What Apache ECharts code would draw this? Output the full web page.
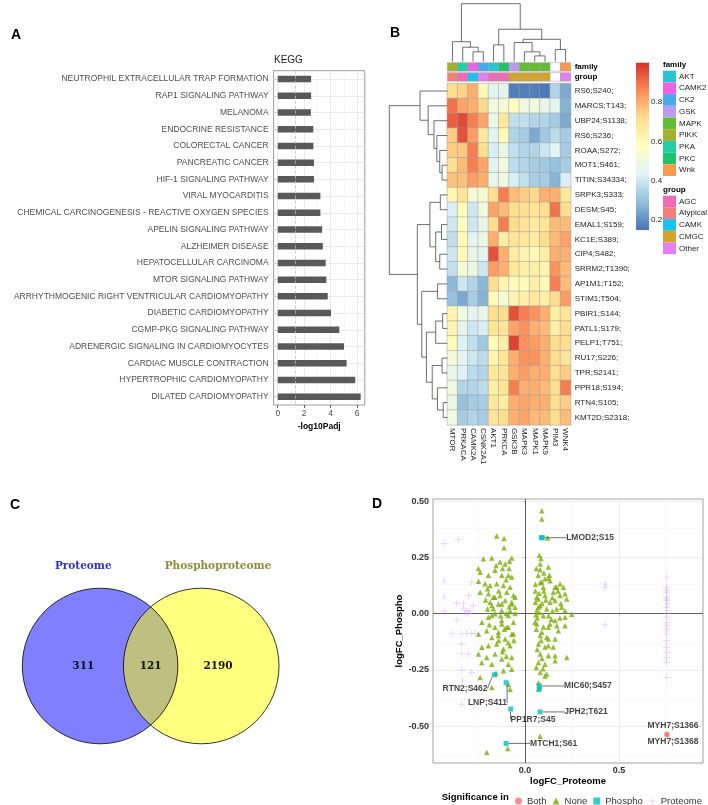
<!DOCTYPE html>
<html><head><meta charset="utf-8">
<script src="https://cdn.jsdelivr.net/npm/echarts@6/dist/echarts.min.js"></script>
<style>html,body{margin:0;padding:0;background:#fff}#c{width:708px;height:805px}</style>
</head><body><div id="c"></div>
<script>
// ================= Panel A : KEGG =================
const keggTerms = ['NEUTROPHIL EXTRACELLULAR TRAP FORMATION','RAP1 SIGNALING PATHWAY','MELANOMA','ENDOCRINE RESISTANCE','COLORECTAL CANCER','PANCREATIC CANCER','HIF-1 SIGNALING PATHWAY','VIRAL MYOCARDITIS','CHEMICAL CARCINOGENESIS - REACTIVE OXYGEN SPECIES','APELIN SIGNALING PATHWAY','ALZHEIMER DISEASE','HEPATOCELLULAR CARCINOMA','MTOR SIGNALING PATHWAY','ARRHYTHMOGENIC RIGHT VENTRICULAR CARDIOMYOPATHY','DIABETIC CARDIOMYOPATHY','CGMP-PKG SIGNALING PATHWAY','ADRENERGIC SIGNALING IN CARDIOMYOCYTES','CARDIAC MUSCLE CONTRACTION','HYPERTROPHIC CARDIOMYOPATHY','DILATED CARDIOMYOPATHY'];
const keggValues = [2.52,2.52,2.50,2.69,2.69,2.74,2.74,3.22,3.22,3.35,3.40,3.62,3.67,3.77,4.02,4.65,5.00,5.20,5.85,6.26];
const keggBreaks = [0,2,4,6];
const keggMinor = [1,3,5];
const keggCutoff = 1.3;

// ================= Panel B : kinase heatmap =================
const kinases = ['MTOR','PRKACA','CAMK2A','CSNK2A1','AKT1','PRKCA','GSK3B','MAPK3','MAPK1','MAPK9','PIM3','WNK4'];
const sites = ['RS6;S240;','MARCS;T143;','UBP24;S1138;','RS6;S236;','ROAA;S272;','MOT1;S461;','TITIN;S34334;','SRPK3;S333;','DESM;S45;','EMAL1;S159;','KC1E;S389;','CIP4;S482;','SRRM2;T1390;','AP1M1;T152;','STIM1;T504;','PBIR1;S144;','PATL1;S179;','PELP1;T751;','RU17;S226;','TPR;S2141;','PPR18;S194;','RTN4;S105;','KMT2D;S2318;'];
const activity = [
[0.72,0.74,0.80,0.60,0.45,0.45,0.17,0.17,0.17,0.16,0.35,0.25],
[0.90,0.82,0.80,0.73,0.50,0.52,0.58,0.50,0.50,0.47,0.45,0.27],
[0.93,0.96,0.88,0.82,0.48,0.68,0.38,0.38,0.35,0.35,0.33,0.25],
[0.75,0.95,0.83,0.67,0.45,0.60,0.35,0.33,0.25,0.32,0.37,0.33],
[0.75,0.76,0.88,0.72,0.42,0.48,0.38,0.35,0.35,0.40,0.45,0.33],
[0.72,0.78,0.88,0.82,0.45,0.50,0.37,0.35,0.33,0.32,0.30,0.33],
[0.77,0.77,0.83,0.80,0.47,0.50,0.42,0.38,0.33,0.33,0.27,0.42],
[0.62,0.70,0.52,0.53,0.72,0.88,0.78,0.75,0.73,0.80,0.80,0.68],
[0.42,0.60,0.40,0.50,0.82,0.78,0.72,0.72,0.70,0.72,0.90,0.72],
[0.40,0.58,0.40,0.47,0.72,0.88,0.72,0.70,0.67,0.70,0.78,0.78],
[0.38,0.60,0.45,0.48,0.80,0.65,0.70,0.68,0.66,0.72,0.78,0.82],
[0.40,0.60,0.47,0.45,0.95,0.80,0.66,0.62,0.60,0.65,0.80,0.80],
[0.38,0.52,0.48,0.40,0.83,0.80,0.68,0.65,0.65,0.62,0.85,0.78],
[0.28,0.40,0.35,0.28,0.72,0.62,0.60,0.60,0.65,0.60,0.88,0.78],
[0.30,0.25,0.33,0.27,0.60,0.52,0.62,0.65,0.68,0.65,0.72,0.83],
[0.62,0.50,0.45,0.47,0.72,0.72,0.95,0.88,0.85,0.80,0.65,0.70],
[0.62,0.45,0.40,0.42,0.70,0.70,0.82,0.85,0.80,0.78,0.65,0.72],
[0.60,0.43,0.38,0.32,0.60,0.65,0.97,0.85,0.83,0.80,0.72,0.72],
[0.52,0.45,0.40,0.37,0.63,0.70,0.80,0.85,0.85,0.80,0.72,0.70],
[0.47,0.43,0.37,0.35,0.68,0.70,0.80,0.83,0.80,0.80,0.72,0.75],
[0.50,0.35,0.35,0.37,0.65,0.70,0.88,0.80,0.80,0.78,0.72,0.88],
[0.48,0.30,0.33,0.33,0.68,0.66,0.80,0.82,0.80,0.80,0.72,0.75],
[0.50,0.33,0.35,0.33,0.70,0.72,0.80,0.82,0.78,0.78,0.72,0.78]
];
const kinaseFamily = ['PIKK','PKA','CAMK2','CK2','AKT','PKC','GSK','MAPK','MAPK','MAPK',null,'Wnk'];
const kinaseGroup = ['Atypical','AGC','CAMK','Other','AGC','AGC','CMGC','CMGC','CMGC','CMGC',null,'Other'];
const familyLevels = ['AKT','CAMK2','CK2','GSK','MAPK','PIKK','PKA','PKC','Wnk'];
const familyColors = ['#27C5CF','#EE63E4','#4AA9EC','#BA9CF0','#62BD34','#A6AE30','#22CEA6','#22C16A','#F59A4F'];
const groupLevels = ['AGC','Atypical','CAMK','CMGC','Other'];
const groupColors = ['#F06AB6','#F37F7A','#18C4EF','#D2A42B','#E27FF2'];
const heatColors = ['#4575B4','#91BFDB','#E0F3F8','#FFFFBF','#FEE090','#FC8D59','#D73027'];
const heatMin = 0.15, heatMax = 1.0;
const colorbarTicks = [0.2,0.4,0.6,0.8];
// dendrograms: [height, left, right]; leaves are indices
const colTree = [1.0,[0.345,0,[0.25,1,[0.17,2,3]]],[0.56,[0.29,4,5],[0.386,[0.33,6,[0.17,7,[0.1,8,9]]],[0.21,10,11]]]];
const rowTree = [1.0,
  [0.47,0,[0.33,1,[0.23,2,[0.18,3,[0.13,4,[0.09,5,6]]]]]],
  [0.517,
    [0.30,[0.12,7,8],[0.2,[0.1,9,10],[0.13,11,12]]],
    [0.44,[0.17,13,14],[0.36,[0.2,[0.08,15,16],17],[0.26,[0.09,18,19],[0.17,20,[0.07,21,22]]]]]
  ]
];

// ================= Panel C : Venn =================
const vennSets = ['Proteome','Phosphoproteome'];
const vennCounts = [311,121,2190];

// ================= Panel D : scatter =================
const noneSites = [
[0.089,0.457],[0.089,0.42],[0.12,0.336],
[0.076,0.259],[0.085,0.245],[0.08,0.22],[0.124,0.207],[0.08,0.195],[0.13,0.17],[0.07,0.17],
[0.106,0.155],[0.08,0.137],[0.133,0.146],[0.124,0.158],[0.089,0.14],[0.1,0.18],[0.06,0.2],[0.055,0.13],
[0.097,0.117],[0.168,0.117],[0.186,0.132],[0.204,0.117],[0.16,0.117],[0.15,0.095],[0.106,0.08],[0.213,0.088],
[0.07,0.065],[0.222,0.065],[0.186,0.08],[0.16,0.058],[0.133,0.05],[0.062,0.073],[0.08,0.035],[0.195,0.028],
[0.07,0.028],[0.115,0.02],[0.062,0.012],[0.168,0.02],[0.213,0.012],[0.055,0.05],[0.075,0.09],[0.1,0.1],
[0.055,0.1],[0.09,0.045],[0.11,0.06],[0.145,0.07],[0.175,0.1],[0.19,0.045],[0.145,0.01],
[0.058,-0.005],[0.075,0.005],[0.065,-0.02],[0.097,-0.01],[0.125,-0.01],[0.14,-0.025],[0.185,-0.02],[0.248,-0.003],
[0.213,-0.016],[0.16,-0.031],[0.053,-0.039],[0.062,-0.046],[0.098,-0.06],[0.133,-0.046],[0.169,-0.054],[0.213,-0.054],
[0.124,-0.061],[0.177,-0.076],[0.089,-0.083],[0.06,-0.07],[0.08,-0.098],[0.115,-0.106],[0.124,-0.113],[0.16,-0.113],
[0.085,-0.12],[0.071,-0.135],[0.106,-0.149],[0.15,-0.149],[0.124,-0.143],[0.065,-0.16],[0.08,-0.18],[0.124,-0.188],
[0.16,-0.188],[0.222,-0.195],[0.09,-0.2],[0.071,-0.217],[0.106,-0.225],[0.16,-0.21],[0.06,-0.24],[0.095,-0.245],
[0.08,-0.262],[0.115,-0.269],[0.106,-0.277],[0.071,-0.307],[0.071,-0.335],[0.08,-0.545],
[-0.151,0.345],[-0.112,0.333],[-0.112,0.292],[-0.222,0.244],[-0.177,0.247],[-0.133,0.229],[-0.154,0.214],
[-0.106,0.22],[-0.071,0.247],[-0.083,0.232],[-0.248,0.2],[-0.239,0.184],[-0.195,0.17],[-0.16,0.192],
[-0.124,0.17],[-0.089,0.17],[-0.071,0.162],[-0.12,0.2],[-0.085,0.2],[-0.248,0.143],[-0.213,0.132],[-0.186,0.125],
[-0.151,0.132],[-0.115,0.125],[-0.08,0.117],[-0.1,0.15],[-0.2,0.11],[-0.14,0.1],[-0.239,0.095],[-0.195,0.088],
[-0.169,0.073],[-0.133,0.08],[-0.097,0.095],[-0.062,0.08],[-0.16,0.073],[-0.053,0.073],[-0.21,0.06],[-0.186,0.05],
[-0.142,0.043],[-0.106,0.058],[-0.071,0.043],[-0.177,0.036],[-0.124,0.043],[-0.071,0.05],[-0.169,0.021],[-0.124,0.014],
[-0.08,0.014],[-0.053,0.028],[-0.2,0.02],[-0.085,0.03],[-0.177,-0.009],[-0.1,0.0],[-0.13,-0.01],[-0.16,-0.001],
[-0.195,-0.016],[-0.089,-0.009],[-0.053,0],[-0.23,-0.039],[-0.124,-0.031],[-0.19,-0.05],[-0.062,-0.039],[-0.124,-0.046],
[-0.16,-0.061],[-0.097,-0.061],[-0.089,-0.061],[-0.11,-0.07],[-0.204,-0.076],[-0.142,-0.083],[-0.248,-0.091],[-0.062,-0.091],
[-0.071,-0.091],[-0.177,-0.106],[-0.142,-0.098],[-0.106,-0.113],[-0.06,-0.12],[-0.14,-0.12],[-0.09,-0.13],[-0.23,-0.15],
[-0.195,-0.143],[-0.151,-0.135],[-0.115,-0.158],[-0.08,-0.143],[-0.12,-0.17],[-0.248,-0.18],[-0.204,-0.195],
[-0.16,-0.18],[-0.1,-0.19],[-0.124,-0.202],[-0.071,-0.195],[-0.23,-0.217],[-0.177,-0.225],[-0.089,-0.225],
[-0.071,-0.247],[-0.115,-0.254],[-0.155,-0.265],[-0.239,-0.284],[-0.177,-0.329],[-0.089,-0.314],[-0.08,-0.336],
[-0.092,-0.6],[-0.204,-0.616]
];
const proteomeSites = [
[-0.43,0.311],[-0.355,0.329],[-0.43,0.144],[-0.284,0.14],[-0.43,0.073],[-0.301,0.08],[-0.363,0.046],[-0.328,0.043],
[-0.275,0.036],[-0.43,0.01],[-0.293,0.013],[-0.31,0.01],[-0.319,-0.001],[-0.3,0.0],[-0.325,0.02],[-0.363,-0.028],
[-0.39,-0.088],[-0.34,-0.088],[-0.31,-0.088],[-0.284,-0.088],[-0.266,-0.088],[-0.337,-0.135],[-0.337,-0.177],
[-0.301,-0.18],[-0.337,-0.251],[-0.284,-0.262],[-0.333,-0.299],[-0.337,-0.403],
[0.426,0.132],[0.426,0.117],[0.426,-0.05],
[0.754,0.162],[0.754,0.117],[0.754,0.105],[0.754,0.095],[0.754,0.073],[0.754,0.065],[0.754,0.058],[0.754,0.043],[0.754,0.028],
[0.754,0.013],[0.754,0],[0.754,-0.016],[0.754,-0.039],[0.754,-0.054],[0.754,-0.07],[0.754,-0.091],[0.754,-0.121],[0.754,-0.15],
[0.754,-0.173],[0.754,-0.195],[0.754,-0.217],[0.754,-0.284]
];
const phosphoSites = [[0.087,0.337],[0.092,0.337],[0.076,-0.322],[0.076,-0.335],[0.08,-0.437],[-0.101,-0.577],[-0.076,-0.424],[-0.101,-0.307],[-0.163,-0.272]];
const phosphoNames = ['LMOD2;S15','','MIC60;S457','','JPH2;T621','MTCH1;S61','PP1R7;S45','LNP;S411','RTN2;S462'];
const bothSites = [[0.754,-0.535],[0.756,-0.54]];
const bothNames = ['MYH7;S1366','MYH7;S1368'];
const dXBreaks = [0,0.5], dXMinor = [-0.25,0.25,0.75];
const dYBreaks = [-0.5,-0.25,0,0.25,0.5], dYMinor = [-0.625,-0.375,-0.125,0.125,0.375];

// ================= layout / style constants =================
const FONT = '"Liberation Sans", Arial, Helvetica, sans-serif';
const SERIF = '"DejaVu Serif", "Liberation Serif", serif';
const HM = {left:447.3, top:83.6, width:123.4, height:341.3};
const phosphoLabelOffsets = [[48.6,0],null,[48.6,0],null,[45.8,0],[47.6,0],[22.2,10.4],[-18.6,20.2],[-29.4,13.7]];
const bothLabelOffsets = [[6.3,-7.9],[5.9,6.7]];
const vennDist = 1.3, vennLabelShift = 0.216, vennTitleY = 1.278;
const PLUS = 'path://M-0.13,-1H0.13V-0.13H1V0.13H0.13V1H-0.13V0.13H-1V-0.13H-0.13Z';

// ---------- derived ----------
const heatData = [];
activity.forEach((row, r) => row.forEach((v, c) => heatData.push([c, r, v])));
const famData = kinaseFamily.map((f, i) => [i, 0, f === null ? -1 : familyLevels.indexOf(f)]);
const grpData = kinaseGroup.map((g, i) => [i, 0, g === null ? -1 : groupLevels.indexOf(g)]);

function dendroSegments(tree, swap) {
  const segs = [];
  (function walk(n) {
    if (typeof n === 'number') return {p: n + 0.5, h: 0};
    const a = walk(n[1]), b = walk(n[2]);
    const pts = [[a.p, a.h], [a.p, n[0]], [b.p, n[0]], [b.p, b.h]];
    segs.push([].concat(...pts.map(q => swap ? [q[1], q[0]] : q)));
    return {p: (a.p + b.p) / 2, h: n[0]};
  })(tree);
  return segs;
}
const colSegs = dendroSegments(colTree, false);
const rowSegs = dendroSegments(rowTree, true);

function dendroRender(params, api) {
  const pts = [];
  for (let i = 0; i < 4; i++) pts.push(api.coord([api.value(2 * i), api.value(2 * i + 1)]));
  return {type: 'polyline', shape: {points: pts}, style: {stroke: '#4a4a4a', lineWidth: 0.8, fill: null}};
}
function annRender(colors) {
  return function (params, api) {
    const c = api.coord([api.value(0), api.value(1)]);
    const s = api.size([1, 1]);
    const k = api.value(2);
    return {type: 'rect', shape: {x: c[0] - s[0] / 2, y: c[1] - s[1] / 2, width: s[0], height: s[1]},
      style: {fill: k < 0 ? '#ffffff' : colors[k], stroke: '#9e9e9e', lineWidth: 0.5}};
  };
}

const graphics = [];
function txt(text, x, y, font, fill, align, valign) {
  graphics.push({type: 'text', x: x, y: y, silent: true,
    style: {text: text, font: font, fill: fill || '#000', align: align || 'left', textAlign: align || 'left',
      verticalAlign: valign || 'middle', textVerticalAlign: valign || 'middle'}});
}
txt('A', 11, 35, 'bold 14px ' + FONT);
txt('B', 390, 33, 'bold 14px ' + FONT);
txt('C', 10, 505, 'bold 14px ' + FONT);
txt('D', 372, 504, 'bold 14px ' + FONT);
txt('KEGG', 274, 60, '10px ' + FONT, '#1a1a1a');
txt('Significance in', 441.7, 797, 'bold 9.5px ' + FONT, '#000');
const LGX = 663, SWW = 13, SWH = 11.7;
txt('family', LGX, 65, 'bold 8px ' + FONT, '#000');
familyLevels.forEach((f, i) => {
  graphics.push({type: 'rect', silent: true, shape: {x: LGX, y: 70.7 + i * SWH, width: SWW, height: SWH}, style: {fill: familyColors[i]}});
  txt(f, LGX + 16, 70.7 + (i + 0.5) * SWH, '8px ' + FONT, '#222');
});
txt('group', LGX, 190, 'bold 8px ' + FONT, '#000');
groupLevels.forEach((g, i) => {
  graphics.push({type: 'rect', silent: true, shape: {x: LGX, y: 195.7 + i * SWH, width: SWW, height: SWH}, style: {fill: groupColors[i]}});
  txt(g, LGX + 16, 195.7 + (i + 0.5) * SWH, '8px ' + FONT, '#222');
});

const noLine = {silent: true, symbol: ['none', 'none'], label: {show: false}, animation: false};
const gl = (c, w) => ({color: c, width: w, type: 'solid'});

const option = {
  animation: false,
  backgroundColor: '#ffffff',
  textStyle: {fontFamily: FONT},
  graphic: graphics,
  grid: [
    {left: 273.6, top: 70.7, width: 91.2, height: 334.3, show: true, borderColor: '#808080', borderWidth: 0.8, backgroundColor: 'transparent'},
    {left: HM.left, top: HM.top, width: HM.width, height: HM.height},
    {left: HM.left, top: 62.7, width: HM.width, height: 8.5},
    {left: HM.left, top: 72.7, width: HM.width, height: 8.5},
    {left: HM.left, top: 3.7, width: HM.width, height: 58},
    {left: 389.3, top: HM.top, width: 58, height: HM.height},
    {left: 636, top: 62.7, width: 13, height: 167.3},
    {left: 22.3, top: 588.3, width: 256.7, height: 155.4},
    {left: 433, top: 499, width: 270, height: 264, show: true, borderColor: '#8c8c8c', borderWidth: 0.8, backgroundColor: 'transparent'}
  ],
  xAxis: [
    {gridIndex: 0, type: 'value', min: -0.313, max: 6.573, axisLine: {show: false},
      axisTick: {show: true, customValues: keggBreaks, length: 3, lineStyle: {color: '#333', width: 0.8}},
      axisLabel: {customValues: keggBreaks, fontSize: 8.5, color: '#4d4d4d', margin: 4},
      splitLine: {show: false}, name: '-log10Padj', nameLocation: 'middle', nameGap: 17,
      nameTextStyle: {fontSize: 8.5, fontWeight: 'bold', color: '#000'}},
    {gridIndex: 1, type: 'category', data: kinases, position: 'bottom', axisLine: {show: false}, axisTick: {show: false},
      axisLabel: {interval: 0, rotate: -90, fontSize: 8, color: '#222', margin: 3}, splitLine: {show: false}},
    {gridIndex: 2, type: 'category', data: kinases, show: false},
    {gridIndex: 3, type: 'category', data: kinases, show: false},
    {gridIndex: 4, type: 'value', min: 0, max: kinases.length, show: false},
    {gridIndex: 5, type: 'value', min: 0, max: 1, inverse: true, show: false},
    {gridIndex: 6, type: 'value', min: 0, max: 1, show: false},
    {gridIndex: 7, type: 'value', min: -1, max: vennDist + 1, show: false},
    {gridIndex: 8, type: 'value', min: -0.49, max: 0.947, axisLine: {show: false},
      axisTick: {show: true, customValues: dXBreaks, length: 3, lineStyle: {color: '#333', width: 0.8}},
      axisLabel: {customValues: dXBreaks, formatter: v => v.toFixed(1), fontSize: 9, fontWeight: 'bold', color: '#333', margin: 3},
      splitLine: {show: false}, name: 'logFC_Proteome', nameLocation: 'middle', nameGap: 13,
      nameTextStyle: {fontSize: 9.5, fontWeight: 'bold', color: '#000'}}
  ],
  yAxis: [
    {gridIndex: 0, type: 'category', data: keggTerms, inverse: true, axisLine: {show: false},
      axisTick: {show: true, alignWithLabel: true, length: 3, lineStyle: {color: '#333', width: 0.8}},
      axisLabel: {interval: 0, fontSize: 8.5, color: '#4d4d4d', margin: 5}, splitLine: {show: false}},
    {gridIndex: 1, type: 'category', data: sites, inverse: true, position: 'right', axisLine: {show: false}, axisTick: {show: false},
      axisLabel: {interval: 0, fontSize: 8, color: '#222', margin: 4}},
    {gridIndex: 2, type: 'category', data: ['family'], position: 'right', axisLine: {show: false}, axisTick: {show: false},
      axisLabel: {fontSize: 8, fontWeight: 'bold', color: '#000', margin: 4}},
    {gridIndex: 3, type: 'category', data: ['group'], position: 'right', axisLine: {show: false}, axisTick: {show: false},
      axisLabel: {fontSize: 8, fontWeight: 'bold', color: '#000', margin: 4}},
    {gridIndex: 4, type: 'value', min: 0, max: 1, show: false},
    {gridIndex: 5, type: 'value', min: 0, max: sites.length, inverse: true, show: false},
    {gridIndex: 6, type: 'value', min: heatMin, max: heatMax, position: 'right', axisLine: {show: false}, axisTick: {show: false},
      splitLine: {show: false}, axisLabel: {customValues: colorbarTicks, formatter: v => v.toFixed(1), fontSize: 8, color: '#222', margin: 2}},
    {gridIndex: 7, type: 'value', min: -1, max: 1, show: false},
    {gridIndex: 8, type: 'value', min: -0.664, max: 0.509, axisLine: {show: false},
      axisTick: {show: true, customValues: dYBreaks, length: 3, lineStyle: {color: '#333', width: 0.8}},
      axisLabel: {customValues: dYBreaks, formatter: v => v.toFixed(2), fontSize: 9, fontWeight: 'bold', color: '#333', margin: 4},
      splitLine: {show: false}, name: 'logFC_Phospho', nameLocation: 'middle', nameGap: 26,
      nameTextStyle: {fontSize: 9.5, fontWeight: 'bold', color: '#000'}}
  ],
  visualMap: [{type: 'continuous', show: false, min: heatMin, max: heatMax, seriesIndex: 2, inRange: {color: heatColors}}],
  legend: {
    data: [{name: 'Both', icon: 'circle'}, {name: 'None', icon: 'triangle'}, {name: 'Phospho', icon: 'rect'}, {name: 'Proteome', icon: PLUS}],
    left: 510, top: 791, itemWidth: 7, itemHeight: 7, itemGap: 6, selectedMode: false,
    textStyle: {fontSize: 9.5, color: '#333', fontFamily: FONT}
  },
  series: [
    {type: 'scatter', xAxisIndex: 0, yAxisIndex: 0, data: [], z: 1,
      markLine: Object.assign({}, noLine, {z: 1, data: [].concat(
        keggBreaks.map(v => ({xAxis: v, lineStyle: gl('#e3e3e3', 0.8)})),
        keggMinor.map(v => ({xAxis: v, lineStyle: gl('#efefef', 0.5)})),
        keggTerms.map((t, i) => ({yAxis: i, lineStyle: gl('#e3e3e3', 0.8)}))
      )})},
    {type: 'bar', xAxisIndex: 0, yAxisIndex: 0, data: keggValues, barWidth: 6.5, itemStyle: {color: '#595959'}, z: 3,
      markLine: Object.assign({}, noLine, {z: 6, data: [{xAxis: keggCutoff}], lineStyle: {color: '#bdbdbd', type: [3, 2], width: 0.8}})},
    {type: 'heatmap', xAxisIndex: 1, yAxisIndex: 1, data: heatData, itemStyle: {borderColor: '#9e9e9e', borderWidth: 0.5}, emphasis: {disabled: true}},
    {type: 'custom', xAxisIndex: 2, yAxisIndex: 2, data: famData, renderItem: annRender(familyColors), silent: true},
    {type: 'custom', xAxisIndex: 3, yAxisIndex: 3, data: grpData, renderItem: annRender(groupColors), silent: true},
    {type: 'custom', xAxisIndex: 4, yAxisIndex: 4, data: colSegs, renderItem: dendroRender, silent: true, encode: {x: [0, 2, 4, 6], y: [1, 3, 5, 7]}},
    {type: 'custom', xAxisIndex: 5, yAxisIndex: 5, data: rowSegs, renderItem: dendroRender, silent: true, encode: {x: [0, 2, 4, 6], y: [1, 3, 5, 7]}},
    {type: 'custom', xAxisIndex: 6, yAxisIndex: 6, data: [[0, heatMin, heatMax]], silent: true,
      renderItem: function (params, api) {
        const a = api.coord([0, api.value(2)]), b = api.coord([1, api.value(1)]);
        const stops = heatColors.map((c, i) => ({offset: 1 - i / (heatColors.length - 1), color: c})).reverse();
        return {type: 'rect', shape: {x: a[0], y: a[1], width: b[0] - a[0], height: b[1] - a[1]},
          style: {fill: {type: 'linear', x: 0, y: 0, x2: 0, y2: 1, colorStops: stops}}};
      }},
    {type: 'custom', xAxisIndex: 7, yAxisIndex: 7, data: [[0]], silent: true,
      renderItem: function (params, api) {
        const c1 = api.coord([0, 0]), c2 = api.coord([vennDist, 0]);
        const r = api.size([1, 1])[0];
        const T = (t, p, font, fill) => ({type: 'text', style: {text: String(t), x: p[0], y: p[1], font: font, fill: fill,
          align: 'center', verticalAlign: 'middle', textAlign: 'center', textVerticalAlign: 'middle'}});
        const nf = 'bold 10.5px ' + SERIF, tf = 'bold 10.5px ' + SERIF;
        return {type: 'group', children: [
          {type: 'circle', shape: {cx: c1[0], cy: c1[1], r: r}, style: {fill: 'rgba(0,0,255,0.5)'}},
          {type: 'circle', shape: {cx: c2[0], cy: c2[1], r: r}, style: {fill: 'rgba(255,255,0,0.5)'}},
          {type: 'circle', shape: {cx: c1[0], cy: c1[1], r: r}, style: {fill: null, stroke: '#000', lineWidth: 0.8}},
          {type: 'circle', shape: {cx: c2[0], cy: c2[1], r: r}, style: {fill: null, stroke: '#000', lineWidth: 0.8}},
          T(vennCounts[0], api.coord([-vennLabelShift, 0]), nf, '#111'),
          T(vennCounts[1], api.coord([vennDist / 2, 0]), nf, '#111'),
          T(vennCounts[2], api.coord([vennDist + vennLabelShift, 0]), nf, '#111'),
          T(vennSets[0], api.coord([-vennLabelShift, vennTitleY]), tf, '#3030C8'),
          T(vennSets[1], api.coord([vennDist + vennLabelShift, vennTitleY]), tf, '#8E8E38')
        ]};
      }},
    {type: 'scatter', xAxisIndex: 8, yAxisIndex: 8, data: [], z: 1,
      markLine: Object.assign({}, noLine, {z: 1, data: [].concat(
        dXMinor.map(v => ({xAxis: v, lineStyle: gl('#f2f2f2', 0.5)})),
        dYMinor.map(v => ({yAxis: v, lineStyle: gl('#f2f2f2', 0.5)})),
        dXBreaks.map(v => ({xAxis: v, lineStyle: gl('#e6e6e6', 0.8)})),
        dYBreaks.map(v => ({yAxis: v, lineStyle: gl('#e6e6e6', 0.8)})),
        [{xAxis: 0, lineStyle: gl('#3a3a3a', 0.8)}, {yAxis: 0, lineStyle: gl('#3a3a3a', 0.8)}]
      )})},
    {name: 'Proteome', type: 'scatter', xAxisIndex: 8, yAxisIndex: 8, data: proteomeSites, symbol: PLUS, symbolSize: 7, z: 2,
      itemStyle: {color: 'rgba(199,124,255,0.45)'}},
    {name: 'None', type: 'scatter', xAxisIndex: 8, yAxisIndex: 8, data: noneSites, symbol: 'triangle', symbolSize: 5.5, z: 3,
      itemStyle: {color: '#7CAE00'}},
    {name: 'Phospho', type: 'scatter', xAxisIndex: 8, yAxisIndex: 8, symbol: 'rect', symbolSize: 5, z: 4,
      data: phosphoSites.map((p, i) => ({value: p, name: phosphoNames[i], label: {show: phosphoNames[i] !== ''}})),
      itemStyle: {color: '#00BFC4'},
      label: {show: true, position: 'inside', formatter: '{b}', fontSize: 8.5, fontWeight: 'bold', color: '#111', fontFamily: FONT},
      labelLine: {show: true, lineStyle: {color: '#333', width: 0.7}},
      labelLayout: function (p) { const o = phosphoLabelOffsets[p.dataIndex]; return o ? {dx: o[0], dy: o[1]} : {}; }},
    {name: 'Both', type: 'scatter', xAxisIndex: 8, yAxisIndex: 8, symbol: 'circle', symbolSize: 5, z: 5,
      data: bothSites.map((p, i) => ({value: p, name: bothNames[i]})),
      itemStyle: {color: '#F8766D'},
      label: {show: true, position: 'inside', formatter: '{b}', fontSize: 8.5, fontWeight: 'bold', color: '#111', fontFamily: FONT},
      labelLayout: function (p) { const o = bothLabelOffsets[p.dataIndex]; return o ? {dx: o[0], dy: o[1]} : {}; }}
  ]
};
const chart = echarts.init(document.getElementById('c'), null, {renderer: 'canvas'});
chart.setOption(option);
</script>
</body></html>
